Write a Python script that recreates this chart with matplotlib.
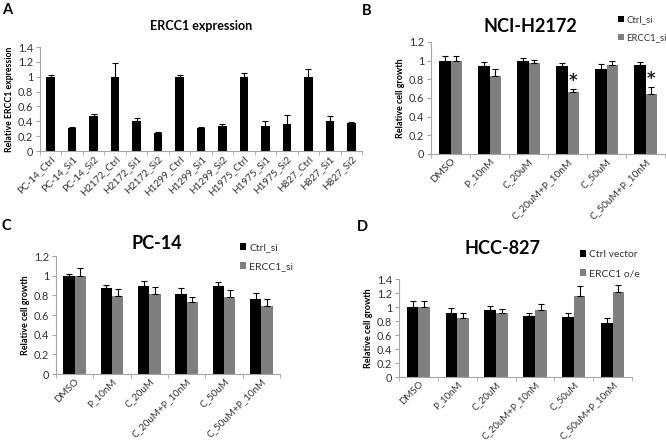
import matplotlib
matplotlib.use("Agg")
import matplotlib.pyplot as plt
import numpy as np
from matplotlib.patches import Patch

plt.rcParams['font.family'] = ['Lato', 'DejaVu Sans']

# Panel A
a_cats = ["PC-14_Ctrl", "PC-14_Si1", "PC-14_Si2", "H2172_Ctrl", "H2172_Si1", "H2172_Si2",
          "H1299_Ctrl", "H1299_Si1", "H1299_Si2", "H1975_Ctrl", "H1975_Si1", "H1975_Si2",
          "H827_Ctrl", "H827_Si1", "H827_Si2"]
a_vals = [1.0, 0.31, 0.47, 1.0, 0.41, 0.24, 1.0, 0.31, 0.34, 1.0, 0.33, 0.37, 1.0, 0.41, 0.38]
a_err = [0.02, 0.01, 0.03, 0.19, 0.04, 0.02, 0.02, 0.01, 0.03, 0.05, 0.07, 0.12, 0.10, 0.06, 0.01]

# Treatments for B, C, D
treatments = ["DMSO", "P_10nM", "C_20uM", "C_20uM+P_10nM", "C_50uM", "C_50uM+P_10nM"]

b_ctrl = [1.0, 0.94, 1.0, 0.94, 0.91, 0.95]
b_ctrl_err = [0.05, 0.05, 0.03, 0.04, 0.05, 0.04]
b_ercc = [1.0, 0.84, 0.97, 0.66, 0.95, 0.64]
b_ercc_err = [0.05, 0.07, 0.04, 0.04, 0.05, 0.08]
b_star = [3, 5]

c_ctrl = [1.0, 0.87, 0.90, 0.81, 0.89, 0.76]
c_ctrl_err = [0.02, 0.04, 0.05, 0.06, 0.05, 0.06]
c_ercc = [1.0, 0.79, 0.81, 0.73, 0.78, 0.69]
c_ercc_err = [0.08, 0.07, 0.07, 0.05, 0.07, 0.07]

d_ctrl = [1.0, 0.91, 0.96, 0.87, 0.86, 0.77]
d_ctrl_err = [0.09, 0.08, 0.05, 0.04, 0.06, 0.08]
d_oe = [1.0, 0.85, 0.92, 0.96, 1.16, 1.21]
d_oe_err = [0.08, 0.06, 0.05, 0.08, 0.14, 0.10]

BLACK = "#000000"
GRAY = "#7f7f7f"
AXC = "#a6a6a6"
TXT = "#333333"

fig = plt.figure(figsize=(6.66, 4.40), dpi=100)

def W(x0, x1, y0, y1):
    return [x0 / 666, 1 - y1 / 440, (x1 - x0) / 666, (y1 - y0) / 440]

def style(ax, n, ymax, ylabel, lblsize=6.5):
    for s in ["top", "right"]:
        ax.spines[s].set_visible(False)
    for s in ["left", "bottom"]:
        ax.spines[s].set_color(AXC)
        ax.spines[s].set_linewidth(0.8)
    ax.set_xlim(-0.5, n - 0.5)
    ax.set_ylim(0, ymax)
    yt = np.round(np.arange(0, ymax + 1e-9, 0.2), 1)
    ax.set_yticks(yt)
    ax.set_yticklabels(["%g" % v for v in yt], fontsize=7.8, color=TXT)
    ax.tick_params(axis="y", length=3, color=AXC, pad=2)
    ax.set_xticks(np.arange(n))
    ax.tick_params(axis="x", length=0, pad=2)
    ax.set_xticks(np.arange(n + 1) - 0.5, minor=True)
    ax.tick_params(axis="x", which="minor", length=3, color=AXC)
    ax.set_ylabel(ylabel, fontsize=lblsize, fontweight="bold", labelpad=3)

# Panel A
axA = fig.add_axes(W(40, 362, 47, 151))
x = np.arange(len(a_cats))
axA.bar(x, a_vals, width=0.4, color=BLACK,
        yerr=[np.zeros(len(a_err)), a_err], error_kw=dict(ecolor=BLACK, elinewidth=0.8, capsize=2, capthick=0.8))
style(axA, len(a_cats), 1.4, "Relative ERCC1 expression", 6.3)
axA.set_xticklabels(a_cats, rotation=45, ha="right", rotation_mode="anchor", fontsize=7.2, color=TXT)
axA.set_title("ERCC1 expression", fontsize=9, fontweight="bold", pad=12)

def pair(ax, c1, e1, c2, e2, ymax, labels, stars=(), xfs=7.3):
    n = len(treatments)
    x = np.arange(n)
    w = 0.3
    ek = dict(ecolor=BLACK, elinewidth=0.8, capsize=2.2, capthick=0.8)
    ax.bar(x - w / 2, c1, width=w, color=BLACK, yerr=[np.zeros(n), e1], error_kw=ek, label=labels[0])
    ax.bar(x + w / 2, c2, width=w, color=GRAY, yerr=[np.zeros(n), e2], error_kw=ek, label=labels[1])
    for i in stars:
        ax.text(x[i] + w / 2, c2[i] + e2[i] - 0.01, "*", ha="center", va="bottom",
                fontsize=12, fontweight="bold", color="#222222", family="DejaVu Sans")
    style(ax, n, ymax, "Relative cell growth")
    ax.set_xticklabels(treatments, rotation=45, ha="right", rotation_mode="anchor", fontsize=xfs, color=TXT)

axB = fig.add_axes(W(431, 665, 42, 154))
pair(axB, b_ctrl, b_ctrl_err, b_ercc, b_ercc_err, 1.2, ["Ctrl_si", "ERCC1_si"], b_star)
axC = fig.add_axes(W(56, 280, 256, 374))
pair(axC, c_ctrl, c_ctrl_err, c_ercc, c_ercc_err, 1.2, ["Ctrl_si", "ERCC1_si"], xfs=7.1)
axD = fig.add_axes(W(399, 632, 279, 377))
pair(axD, d_ctrl, d_ctrl_err, d_oe, d_oe_err, 1.4, ["Ctrl vector", "ERCC1 o/e"], xfs=6.9)

def title_at(x, y, s):
    fig.text(x / 666, 1 - y / 440, s, ha="center", va="center", fontsize=13, fontweight="bold")

title_at(530, 27, "NCI-H2172")
title_at(157, 243, "PC-14")
title_at(503, 248, "HCC-827")

def legend_at(x, y, labels, fs=6.8):
    handles = [Patch(facecolor=BLACK, edgecolor="none"), Patch(facecolor=GRAY, edgecolor="none")]
    fig.legend(handles, labels, loc="upper left", bbox_to_anchor=(x / 666, 1 - y / 440),
               frameon=False, fontsize=fs, handlelength=0.6, handleheight=0.6,
               handletextpad=0.3, labelspacing=1.0, borderpad=0, borderaxespad=0,
               labelcolor=TXT)

legend_at(618, 15, ["Ctrl_si", "ERCC1_si"])
legend_at(240, 243, ["Ctrl_si", "ERCC1_si"], 7.5)
legend_at(580, 250, ["Ctrl vector", "ERCC1 o/e"], 7.5)

for (px, py, s) in [(2, 10, "A"), (362, 11, "B"), (2, 226, "C"), (357, 227, "D")]:
    fig.text(px / 666, 1 - py / 440, s, ha="left", va="center", fontsize=10.5, fontweight="bold")

fig.savefig("out.png", dpi=100, facecolor="white")
